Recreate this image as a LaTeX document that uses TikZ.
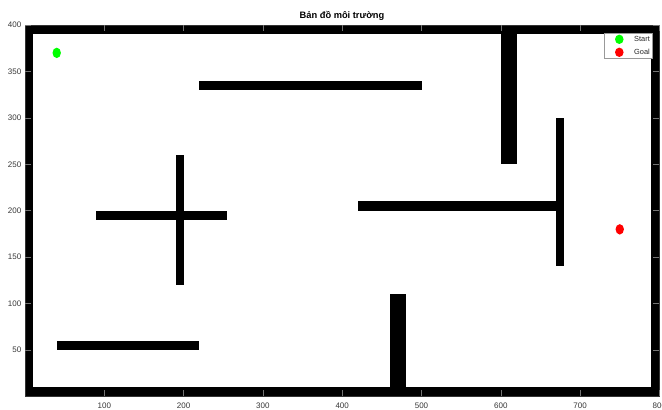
\documentclass[tikz,border=0pt]{standalone}
\usepackage{fontspec}
\setmainfont{Liberation Sans}
\usetikzlibrary{shapes.geometric}
\begin{document}
\begin{tikzpicture}[x=1pt,y=1pt,
  wall/.style={fill=black},
  axtick/.style={draw=black!55, line width=0.5pt},
  ticklabel/.style={font=\fontsize{8}{9}\selectfont, text=black!78, inner sep=0pt},
  dot/.style={ellipse, draw=none, inner sep=0pt, minimum width=8.4pt, minimum height=10.4pt},
  legendtext/.style={font=\fontsize{7.4}{8}\selectfont, text=black!85, inner sep=0pt, anchor=west}]
\useasboundingbox (0,0) rectangle (662,410);
\fill[white] (0,0) rectangle (662,410);
\begin{scope}[shift={(25,13.5)}, x=0.793pt, y=0.92875pt]
  % outer walls
  \fill[wall] (0,0) rectangle (800,10);
  \fill[wall] (0,390) rectangle (800,400);
  \fill[wall] (0,0) rectangle (10,400);
  \fill[wall] (790,0) rectangle (800,400);
  % obstacles
  \fill[wall] (220,330) rectangle (500,340);
  \fill[wall] (600,250) rectangle (620,400);
  \fill[wall] (90,190) rectangle (255,200);
  \fill[wall] (190,120) rectangle (200,260);
  \fill[wall] (420,200) rectangle (680,210);
  \fill[wall] (670,140) rectangle (680,300);
  \fill[wall] (460,0) rectangle (480,110);
  \fill[wall] (40,50) rectangle (220,60);
  % axis box and ticks
  \draw[black!80, line width=0.5pt] (0,0) rectangle (800,400);
  \foreach \t in {100,200,...,800} {
    \draw[axtick] (\t,0) -- ++(0,6.3pt);
    \draw[axtick] (\t,400) -- ++(0,-6.3pt);
    \node[ticklabel] (xl\t) at ([yshift=-9.5pt]\t,0) {\t};
  }
  \foreach \t in {50,100,...,400} {
    \draw[axtick] (0,\t) -- ++(6.3pt,0);
    \draw[axtick] (800,\t) -- ++(-6.3pt,0);
    \node[ticklabel, anchor=east] (yl\t) at ([xshift=-3.5pt]0,\t) {\t};
  }
  % start and goal
  \node[dot, fill=green] (start) at (40,370) {};
  \node[dot, fill=red] (goal) at (750,180) {};
\end{scope}
% title
\node[font=\bfseries\fontsize{9.3}{10}\selectfont, anchor=base, inner sep=0pt] (title) at (342,391) {Bản đồ môi trường};
% legend
\node[draw=black!40, fill=white, line width=0.5pt, minimum width=47.7pt, minimum height=25pt, inner sep=0pt] (legend) at (628.15,364.2) {};
\node[dot, fill=green, minimum width=8.6pt, minimum height=9.4pt] (lstart) at (619.3,370.7) {};
\node[dot, fill=red, minimum width=8.6pt, minimum height=9.4pt] (lgoal) at (619.3,357.7) {};
\node[legendtext] (tstart) at (634,370.7) {Start};
\node[legendtext] (tgoal) at (634,357.7) {Goal};
\end{tikzpicture}
\end{document}
